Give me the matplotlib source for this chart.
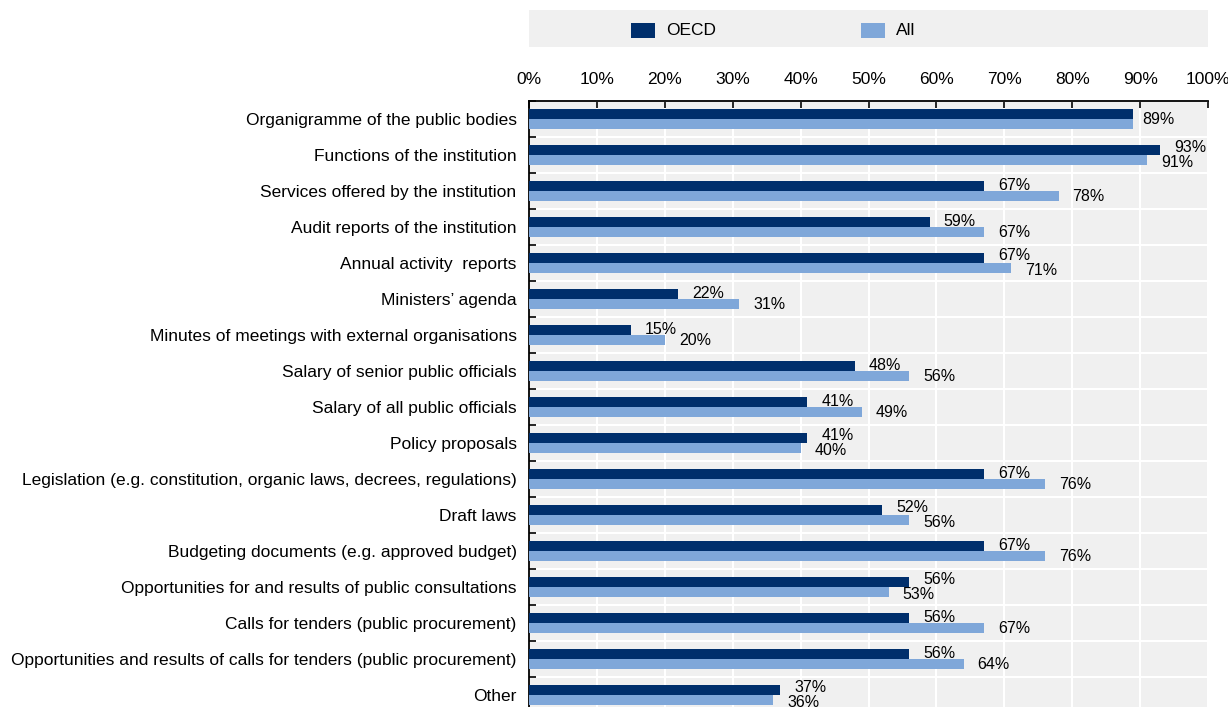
import matplotlib
matplotlib.use("Agg")
import matplotlib.pyplot as plt
from matplotlib import font_manager
from matplotlib.patches import Rectangle
import numpy as np

categories = [
    "Organigramme of the public bodies",
    "Functions of the institution",
    "Services offered by the institution",
    "Audit reports of the institution",
    "Annual activity  reports",
    "Ministers\u2019 agenda",
    "Minutes of meetings with external organisations",
    "Salary of senior public officials",
    "Salary of all public officials",
    "Policy proposals",
    "Legislation (e.g. constitution, organic laws, decrees, regulations)",
    "Draft laws",
    "Budgeting documents (e.g. approved budget)",
    "Opportunities for and results of public consultations",
    "Calls for tenders (public procurement)",
    "Opportunities and results of calls for tenders (public procurement)",
    "Other",
]
oecd = [89, 93, 67, 59, 67, 22, 15, 48, 41, 41, 67, 52, 67, 56, 56, 56, 37]
all_countries = [89, 91, 78, 67, 71, 31, 20, 56, 49, 40, 76, 56, 76, 53, 67, 64, 36]
series_names = ["OECD", "All"]
x_ticks = [0, 10, 20, 30, 40, 50, 60, 70, 80, 90, 100]

navy = "#002F6C"
light_blue = "#7FA7D9"
panel = "#F0F0F0"

# Prefer a narrow sans face when available
installed = {f.name for f in font_manager.fontManager.ttflist}
family = "Liberation Sans Narrow" if "Liberation Sans Narrow" in installed else "Liberation Sans"
plt.rcParams["font.family"] = [family, "DejaVu Sans"]
fs = 12.5
vfs = 11.5

W, H = 1228, 707
fig = plt.figure(figsize=(W / 100, H / 100), dpi=100)
ax = fig.add_axes([529 / W, 1 - 713 / H, 679 / W, 612 / H])
ax.set_facecolor(panel)

n = len(categories)
y = np.arange(n)
bh = 0.28
ax.barh(y - bh / 2, oecd, height=bh, color=navy, zorder=3)
ax.barh(y + bh / 2, all_countries, height=bh, color=light_blue, zorder=3)

ax.set_xlim(0, 100)
ax.set_ylim(n - 0.5, -0.5)

# value labels: one label when both series agree, pushed apart when close
off = 14 * 72 / 100  # points
for i, (a, b) in enumerate(zip(oecd, all_countries)):
    if a == b:
        ax.annotate(f"{a}%", (a, i), xytext=(off * 0.65, 0), textcoords="offset points",
                    ha="left", va="center", fontsize=vfs, zorder=4)
        continue
    dy = 0.21 if abs(a - b) <= 4 else bh / 2
    ax.annotate(f"{a}%", (a, i - dy), xytext=(off, 0), textcoords="offset points",
                ha="left", va="center", fontsize=vfs, zorder=4)
    ax.annotate(f"{b}%", (b, i + dy), xytext=(off, 0), textcoords="offset points",
                ha="left", va="center", fontsize=vfs, zorder=4)

# axes styling
ax.xaxis.tick_top()
ax.set_xticks(x_ticks)
ax.set_xticklabels([f"{t}%" for t in x_ticks], fontsize=fs)
ax.tick_params(axis="x", direction="in", length=5, width=1.2, pad=10, color="black")
ax.set_yticks(y)
ax.set_yticklabels(categories, fontsize=fs)
ax.set_yticks(np.arange(n + 1) - 0.5, minor=True)
ax.tick_params(axis="y", which="major", length=0, pad=9)
ax.tick_params(axis="y", which="minor", direction="in", length=5, width=1.2, color="black")

ax.grid(axis="x", which="major", color="white", linewidth=1.5, zorder=1)
ax.grid(axis="y", which="minor", color="white", linewidth=1.5, zorder=1)
ax.set_axisbelow(True)
for side in ("right", "bottom"):
    ax.spines[side].set_visible(False)
for side in ("top", "left"):
    ax.spines[side].set_color("black")
    ax.spines[side].set_linewidth(1.3)

# legend band
fig.add_artist(Rectangle((529 / W, 1 - 47 / H), 679 / W, 37 / H, transform=fig.transFigure,
                         facecolor=panel, edgecolor="none"))
for name, col, px in zip(series_names, [navy, light_blue], [631, 861]):
    fig.add_artist(Rectangle((px / W, 1 - 38 / H), 24 / W, 15 / H, transform=fig.transFigure,
                             facecolor=col, edgecolor="none"))
    fig.text((px + 35) / W, 1 - 30.5 / H, name, fontsize=fs, ha="left", va="center")

fig.savefig("out.png", dpi=100)
